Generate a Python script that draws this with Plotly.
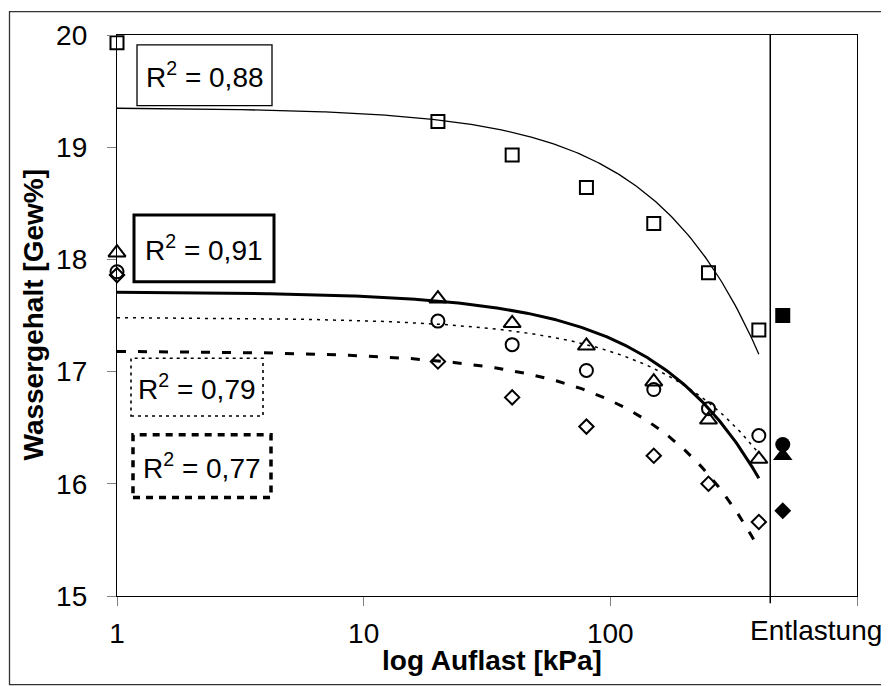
import numpy as np
import plotly.graph_objects as go

# ---------------- data ----------------
load_kpa = [1, 20, 40, 80, 150, 250, 400]
w_square = [19.93, 19.23, 18.93, 18.64, 18.32, 17.88, 17.37]
w_triangle = [18.06, 17.65, 17.43, 17.23, 16.91, 16.57, 16.22]
w_circle = [17.89, 17.45, 17.24, 17.01, 16.84, 16.67, 16.43]
w_diamond = [17.86, 17.09, 16.77, 16.51, 16.25, 16.00, 15.66]

unload_x = 500
unload_square = 17.50
unload_circle = 16.35
unload_triangle = 16.25
unload_diamond = 15.76

unload_line_x = 445
r2_labels = ["0,88", "0,91", "0,79", "0,77"]
x_tickvals = [1, 10, 100, 1000]
x_ticktext = ["1", "10", "100", ""]
x_last_label = "Entlastung"

FONT = "Liberation Sans, Arial, sans-serif"
OFF = 8  # page body margin
W, H = 889 - OFF, 686 - OFF
L, R, T, B = 117 - OFF, 32, 32 - OFF, 98 - OFF
PW, PH = W - L - R, H - T - B


def px(xp):
    return (xp - OFF - L) / PW


def py(yp):
    return (H - B - (yp - OFF)) / PH


fig = go.Figure()

x_fit = np.geomspace(min(load_kpa), max(load_kpa), 300)
fit_styles = [
    (w_square, dict(color="black", width=1.3)),
    (w_triangle, dict(color="black", width=3)),
    (w_circle, dict(color="black", width=1.5, dash="3px,5px")),
    (w_diamond, dict(color="black", width=3, dash="9px,12px")),
]
for ys, ln in fit_styles:
    k, d = np.polyfit(load_kpa, ys, 1)
    fig.add_trace(go.Scatter(x=x_fit, y=k * x_fit + d, mode="lines", line=ln,
                             hoverinfo="skip", showlegend=False))

markers = [
    (w_square, "square-open", 13),
    (w_triangle, "triangle-up-open", 15),
    (w_circle, "circle-open", 13),
    (w_diamond, "diamond-open", 11),
]
for ys, sym, sz in markers:
    fig.add_trace(go.Scatter(x=load_kpa, y=ys, mode="markers", cliponaxis=False,
                             marker=dict(symbol=sym, size=sz, color="black",
                                         line=dict(color="black", width=2)),
                             showlegend=False))

filled = [
    (unload_square, "square", 15),
    (unload_triangle, "triangle-up", 17),
    (unload_circle, "circle", 15),
    (unload_diamond, "diamond", 13),
]
for yv, sym, sz in filled:
    fig.add_trace(go.Scatter(x=[unload_x], y=[yv], mode="markers", cliponaxis=False,
                             marker=dict(symbol=sym, size=sz, color="black"),
                             showlegend=False))

shapes = [
    dict(type="line", xref="x", yref="paper", x0=unload_line_x, x1=unload_line_x,
         y0=-0.013, y1=1, line=dict(color="black", width=1.5)),
    # outer chart frame
    dict(type="rect", xref="paper", yref="paper", x0=px(9.5), x1=px(887), y0=py(685),
         y1=py(8.6), line=dict(color="#333", width=1.3)),
]

boxes = [
    (137, 272, 42, 103, dict(color="black", width=1.3)),
    (134, 274, 213, 280, dict(color="black", width=3)),
    (131, 263, 357, 415, dict(color="black", width=1.6, dash="3px,4px")),
    (133, 271, 434, 497, dict(color="black", width=3.5, dash="7px,6px")),
]
annotations = []
for (x0, x1, y0, y1, ln), lab in zip(boxes, r2_labels):
    shapes.append(dict(type="rect", xref="paper", yref="paper", x0=px(x0), x1=px(x1),
                       y0=py(y1), y1=py(y0), line=ln, fillcolor="white", layer="above"))
    annotations.append(dict(xref="paper", yref="paper", x=px((x0 + x1) / 2), y=py((y0 + y1) / 2),
                            text="R<sup>2</sup> = " + lab, showarrow=False,
                            xanchor="center", yanchor="middle",
                            font=dict(family=FONT, size=28, color="black")))

annotations += [
    dict(xref="paper", yref="paper", x=px(815.5), y=py(631), text=x_last_label, showarrow=False,
         xanchor="center", yanchor="middle", font=dict(family=FONT, size=28, color="black")),
    dict(xref="paper", yref="paper", x=px(492), y=py(661), text="<b>log Auflast [kPa]</b>",
         showarrow=False, xanchor="center", yanchor="middle",
         font=dict(family=FONT, size=28, color="black")),
    dict(xref="paper", yref="paper", x=px(33), y=0.5, text="<b>Wassergehalt [Gew%]</b>",
         showarrow=False, xanchor="center", yanchor="middle", textangle=-90,
         font=dict(family=FONT, size=28, color="black")),
]

fig.update_xaxes(type="log", range=[0, 3], tickvals=x_tickvals, ticktext=x_ticktext,
                 ticks="outside", ticklen=9, tickcolor="#808080", tickwidth=1.3,
                 showline=True, linecolor="black", linewidth=1.3, mirror=True,
                 showgrid=False, zeroline=False, ticklabelstandoff=3,
                 tickfont=dict(family=FONT, size=28, color="black"))
fig.update_yaxes(range=[15, 20], tickvals=[15, 16, 17, 18, 19, 20],
                 ticks="outside", ticklen=9, tickcolor="#808080", tickwidth=1.3,
                 showline=True, linecolor="black", linewidth=1.3, mirror=True,
                 showgrid=False, zeroline=False, ticklabelstandoff=14,
                 tickfont=dict(family=FONT, size=28, color="black"))

fig.update_layout(width=W, height=H, margin=dict(l=L, r=R, t=T, b=B),
                  plot_bgcolor="white", paper_bgcolor="white",
                  shapes=shapes, annotations=annotations, showlegend=False)

fig.write_html("out.html")
